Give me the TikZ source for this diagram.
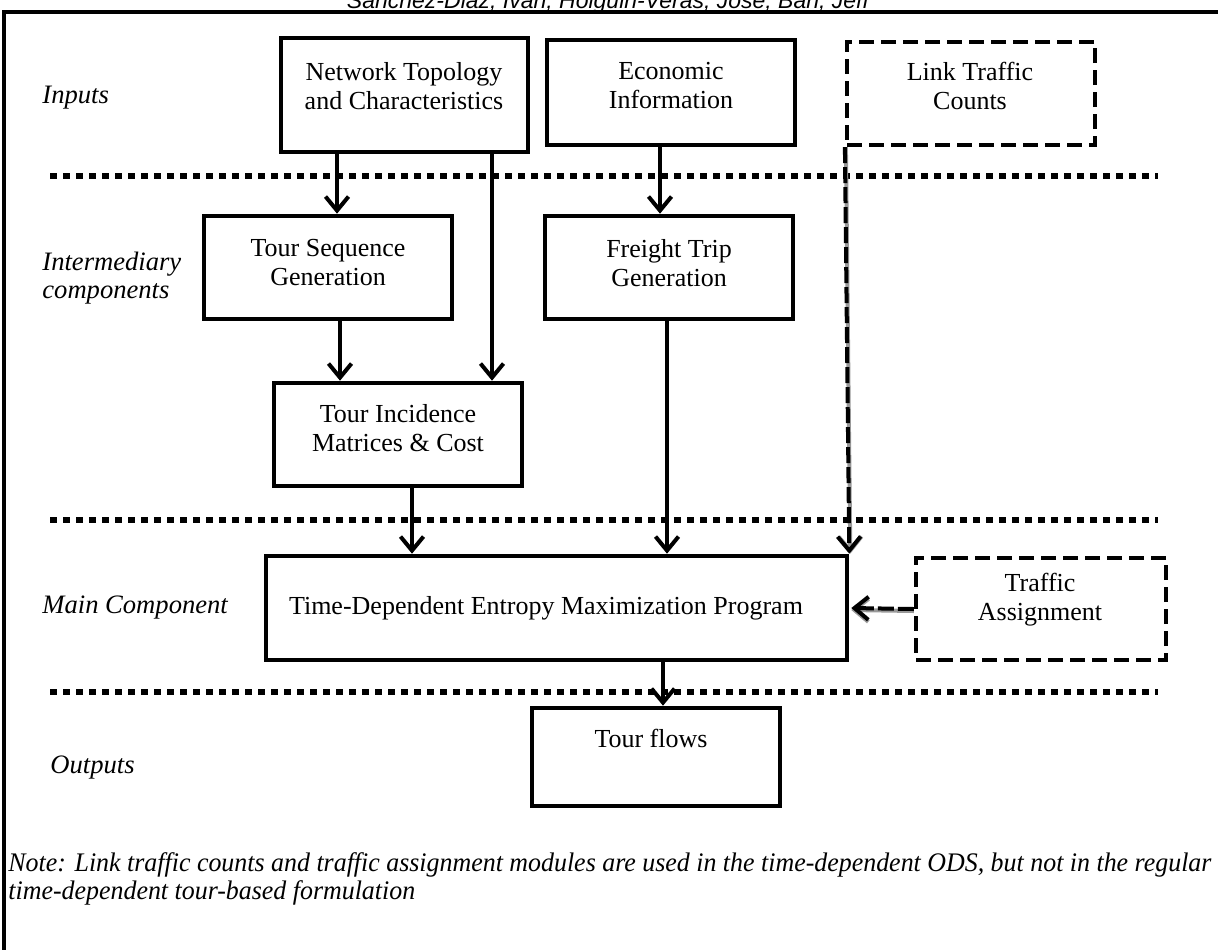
\documentclass[tikz,border=0pt]{standalone}
\usepackage{fontspec}
\setmainfont{Liberation Serif}
\newfontfamily\hdrfont{Liberation Sans}
\usetikzlibrary{arrows.meta}
\begin{document}
\begin{tikzpicture}[x=0.5pt,y=-0.5pt,
 box/.style={draw, line width=2.3pt, inner sep=0pt},
 dbox/.style={draw, line width=2.1pt, dash pattern=on 7.5pt off 3.5pt, inner sep=0pt},
 txt/.style={align=center, font=\fontsize{13}{14.5}\selectfont, inner sep=0pt},
 lbl/.style={align=left, anchor=west, font=\fontsize{13.3}{14}\selectfont\itshape, inner sep=0pt},
 sepline/.style={line width=3pt, dash pattern=on 3.5pt off 3pt},
 tip/.style={-{Straight Barb[length=7pt,width=11.5pt,line width=2pt]}},
 arr/.style={line width=2pt, tip},
 darr/.style={line width=2pt, dash pattern=on 8pt off 2pt, tip},
 shadowline/.style={line width=2pt, draw=black!40, tip}
]
\useasboundingbox (0,0) rectangle (1218,949);
\clip (0,0) rectangle (1218,949);

% header (cut)
\node[font=\hdrfont\itshape\fontsize{11.5}{13}\selectfont, anchor=base, inner sep=0pt] (hdr) at (608,8) {Sanchez-Diaz, Ivan; Holguin-Veras, Jose; Ban, Jeff};

% frame
\draw[line width=2pt] (4,960) -- (4,12) -- (1230,12);

% separators
\draw[sepline] (50,176) -- (1158,176);
\draw[sepline] (50,520) -- (1158,520);
\draw[sepline] (50,692) -- (1158,692);

% boxes
\node[box, minimum width=123.5pt, minimum height=57pt] (net) at (404.5,95) {};
\node[box, minimum width=124pt, minimum height=52.5pt] (eco) at (671,92.5) {};
\node[dbox, minimum width=124pt, minimum height=51.5pt] (ltc) at (971,93.5) {};
\node[box, minimum width=124pt, minimum height=51.5pt] (tsg) at (328,267.5) {};
\node[box, minimum width=124pt, minimum height=51.5pt] (ftg) at (669,267.5) {};
\node[box, minimum width=124pt, minimum height=51.5pt] (tim) at (398,434.5) {};
\node[box, minimum width=290.5pt, minimum height=52pt] (main) at (556.5,608) {};
\node[dbox, minimum width=125pt, minimum height=51pt] (ta) at (1041,609) {};
\node[box, minimum width=124pt, minimum height=49pt] (tf) at (656,757) {};

% box texts
\node[txt] (netT) at (404,86) {Network Topology\\and Characteristics};
\node[txt] (ecoT) at (671,86) {Economic\\Information};
\node[txt] (ltcT) at (970,86) {Link Traffic\\Counts};
\node[txt] (tsgT) at (328,263) {Tour Sequence\\Generation};
\node[txt] (ftgT) at (669,263) {Freight Trip\\Generation};
\node[txt] (timT) at (398,428) {Tour Incidence\\Matrices \& Cost};
\node[txt] (mainT) at (546,608) {Time-Dependent Entropy Maximization Program};
\node[txt] (taT) at (1040,600) {Traffic\\Assignment};
\node[txt] (tfT) at (651,738) {Tour flows};

% row labels
\node[lbl] (l1) at (42,98) {Inputs};
\node[lbl] (l2) at (42,278) {Intermediary\\components};
\node[lbl] (l3) at (42,608) {Main Component};
\node[lbl] (l4) at (50,768) {Outputs};

% solid arrows
\draw[arr] (net.south -| 337,0) -- (tsg.north -| 337,0);
\draw[arr] (net.south -| 492,0) -- (tim.north -| 492,0);
\draw[arr] (eco.south -| 660,0) -- (ftg.north -| 660,0);
\draw[arr] (tsg.south -| 340,0) -- (tim.north -| 340,0);
\draw[arr] (tim.south -| 412,0) -- (main.north -| 412,0);
\draw[arr] (ftg.south -| 667,0) -- (main.north -| 667,0);
\draw[arr] (main.south -| 663,0) -- (tf.north -| 663,0);

% dashed arrows
\coordinate (ltcS) at (ltc.south west);
\coordinate (mainNE) at (main.north east);
\draw[shadowline] ([xshift=0.5pt]ltcS) -- ([xshift=0.5pt]mainNE);
\draw[darr] (ltcS) -- (mainNE);
\draw[shadowline] ([yshift=-1pt]ta.west) -- ([yshift=-1pt,xshift=1pt]main.east);
\draw[darr] (ta.west) -- ([xshift=1pt]main.east);

% note
\node[anchor=west, align=left, inner sep=0pt, font=\fontsize{13.4}{14}\selectfont\itshape] (note) at (8,879)
 {\scalebox{0.967}[1]{Note: Link traffic counts and traffic assignment modules are used in the time-dependent ODS, but not in the regular}\\\scalebox{0.967}[1]{time-dependent tour-based formulation}};
\end{tikzpicture}
\end{document}
